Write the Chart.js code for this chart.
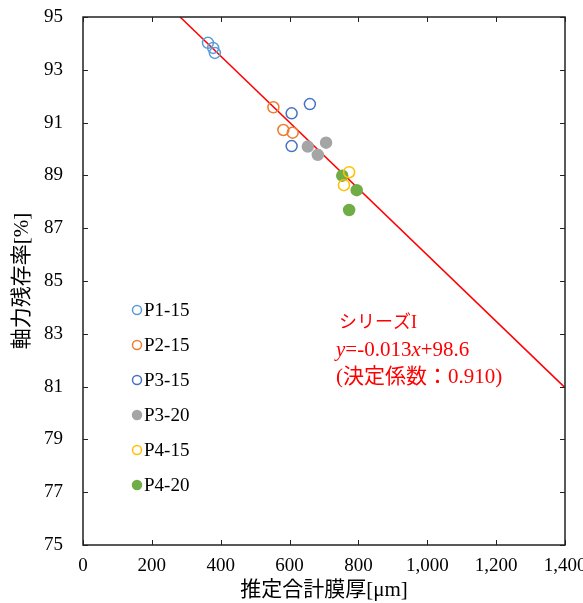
<!DOCTYPE html>
<html>
<head>
<meta charset="utf-8">
<script src="https://cdn.jsdelivr.net/npm/chart.js@4/dist/chart.umd.min.js"></script>
<style>
  html, body { margin: 0; padding: 0; background: #fff; }
  #wrap { width: 583px; height: 603px; }
</style>
</head>
<body>
<div id="wrap"><canvas id="chart" width="583" height="603"></canvas></div>
<script>
// data
const seriesNames = ['P1-15', 'P2-15', 'P3-15', 'P3-20', 'P4-15', 'P4-20'];
const p1_15 = [{x: 363, y: 94.02}, {x: 378, y: 93.83}, {x: 383, y: 93.64}];
const p2_15 = [{x: 553, y: 91.58}, {x: 582, y: 90.72}, {x: 609, y: 90.62}];
const p3_15 = [{x: 606, y: 91.35}, {x: 659, y: 91.70}, {x: 606, y: 90.11}];
const p3_20 = [{x: 653, y: 90.09}, {x: 706, y: 90.24}, {x: 682, y: 89.78}];
const p4_15 = [{x: 773, y: 89.12}, {x: 758, y: 88.63}];
const p4_20 = [{x: 753, y: 88.99}, {x: 795, y: 88.44}, {x: 773, y: 87.69}];
const trendLine = [{x: 282, y: 95}, {x: 1400, y: 80.96}];
const xTicks = [0, 200, 400, 600, 800, 1000, 1200, 1400];
const yTicks = [75, 77, 79, 81, 83, 85, 87, 89, 91, 93, 95];
const noteLines = ['シリーズI', 'y=-0.013x+98.6', '(決定係数：0.910)'];

const serif = '"Liberation Serif", "Noto Sans CJK JP", serif';
const colors = ['#5B9BD5', '#ED7D31', '#4472C4', '#A5A5A5', '#FFC000', '#70AD47'];
const filled = [false, false, false, true, false, true];
const allData = [p1_15, p2_15, p3_15, p3_20, p4_15, p4_20];

const datasets = allData.map((d, i) => ({
  label: seriesNames[i],
  data: d,
  pointRadius: 5.5,
  pointBorderWidth: 1.5,
  pointBorderColor: colors[i],
  pointBackgroundColor: filled[i] ? colors[i] : 'rgba(0,0,0,0)',
  showLine: false,
  clip: false
}));
datasets.push({
  label: 'trend',
  type: 'line',
  data: trendLine,
  borderColor: '#FF0000',
  borderWidth: 1.5,
  pointRadius: 0,
  showLine: true,
  fill: false
});

// frame, inward ticks, legend and the note
const decor = {
  id: 'decor',
  afterDatasetsDraw(c) {
    const {ctx, chartArea: a, scales: {x, y}} = c;
    ctx.save();
    ctx.strokeStyle = '#222';
    ctx.lineWidth = 1.5;
    ctx.strokeRect(a.left, a.top, a.right - a.left, a.bottom - a.top);
    ctx.lineWidth = 1;
    ctx.beginPath();
    xTicks.forEach(v => {
      const px = Math.round(x.getPixelForValue(v)) + 0.5;
      ctx.moveTo(px, a.bottom); ctx.lineTo(px, a.bottom - 5);
      ctx.moveTo(px, a.top); ctx.lineTo(px, a.top + 5);
    });
    yTicks.forEach(v => {
      const py = Math.round(y.getPixelForValue(v)) + 0.5;
      ctx.moveTo(a.left, py); ctx.lineTo(a.left + 5, py);
      ctx.moveTo(a.right, py); ctx.lineTo(a.right - 5, py);
    });
    ctx.stroke();

    // legend
    ctx.font = '19px ' + serif;
    ctx.textBaseline = 'middle';
    ctx.textAlign = 'left';
    seriesNames.forEach((n, i) => {
      const ly = 310 + i * 35;
      ctx.beginPath();
      ctx.arc(137, ly, 4.5, 0, Math.PI * 2);
      ctx.lineWidth = 1.5;
      ctx.strokeStyle = colors[i];
      if (filled[i]) { ctx.fillStyle = colors[i]; ctx.fill(); }
      ctx.stroke();
      ctx.fillStyle = '#000';
      ctx.fillText(n, 144, ly + 1);
    });

    // regression note
    ctx.fillStyle = '#FF0000';
    ctx.font = '18px ' + serif;
    ctx.fillText(noteLines[0], 339, 323);
    let tx = 336;
    const parts = [['y', true], ['=-0.013', false], ['x', true], ['+98.6', false]];
    parts.forEach(([t, it]) => {
      ctx.font = (it ? 'italic ' : '') + '21px ' + serif;
      ctx.fillText(t, tx, 350);
      tx += ctx.measureText(t).width;
    });
    ctx.font = '21px ' + serif;
    ctx.fillText(noteLines[2], 336, 377);
    ctx.restore();
  }
};

new Chart(document.getElementById('chart'), {
  type: 'scatter',
  data: { datasets },
  options: {
    responsive: false,
    animation: false,
    layout: { padding: { top: 17, right: 18, left: 0, bottom: 0 } },
    plugins: { legend: { display: false }, tooltip: { enabled: false } },
    scales: {
      x: {
        type: 'linear', min: 0, max: 1400,
        grid: { display: false, drawTicks: false },
        border: { display: false },
        afterFit: (s) => { s.height = 58; s.paddingLeft = 0; s.paddingRight = 0; },
        afterBuildTicks: (s) => { s.ticks = xTicks.map(v => ({value: v})); },
        ticks: {
          padding: 10, color: '#000', font: { size: 19, family: serif },
          maxRotation: 0,
          callback: (v) => v.toLocaleString('en-US')
        },
        title: { display: true, text: '推定合計膜厚[μm]', color: '#000',
          font: { size: 21, family: serif }, padding: { top: 0, bottom: 0 } }
      },
      y: {
        type: 'linear', min: 75, max: 95,
        grid: { display: false, drawTicks: false },
        border: { display: false },
        afterFit: (s) => { s.width = 83; s.paddingTop = 0; s.paddingBottom = 0; },
        afterBuildTicks: (s) => { s.ticks = yTicks.map(v => ({value: v})); },
        ticks: { padding: 20, color: '#000', font: { size: 19, family: serif } },
        title: { display: true, text: '軸力残存率[%]', color: '#000',
          font: { size: 21, family: serif }, padding: { top: 10, bottom: 0 } }
      }
    }
  },
  plugins: [decor]
});
</script>
</body>
</html>
